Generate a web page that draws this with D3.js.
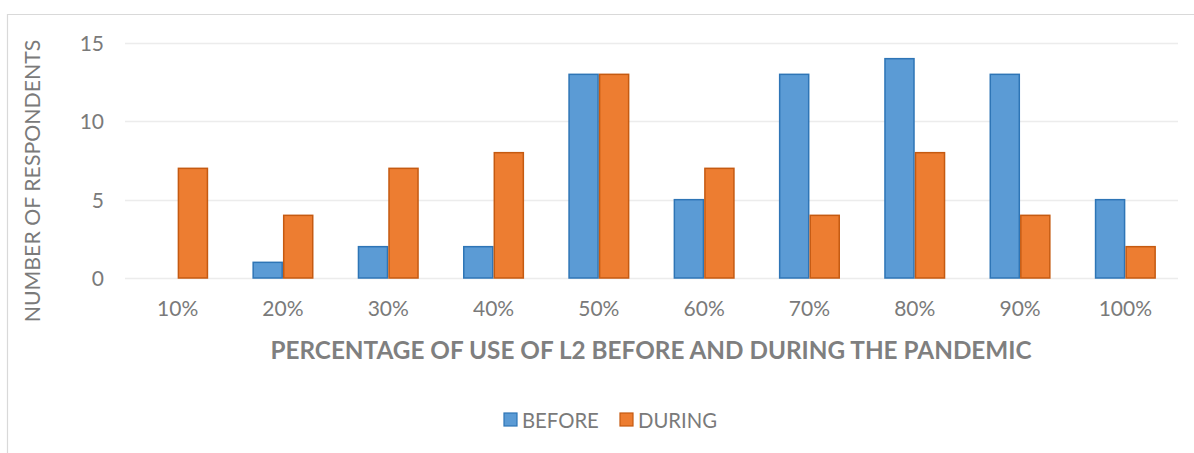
<!DOCTYPE html>
<html>
<head>
<meta charset="utf-8">
<script src="https://cdn.jsdelivr.net/npm/d3@7/dist/d3.min.js"></script>
<style>
  html, body { margin: 0; padding: 0; background: #fff; }
  svg { display: block; font-family: Lato, "Open Sans", sans-serif; }
</style>
</head>
<body>
<svg id="chart" width="1194" height="453"></svg>
<script>
// Share of L2 use, respondents per bucket
const categories = ["10%", "20%", "30%", "40%", "50%", "60%", "70%", "80%", "90%", "100%"];
const beforeValues = [0, 1, 2, 2, 13, 5, 13, 14, 13, 5];
const duringValues = [7, 4, 7, 8, 13, 7, 4, 8, 4, 2];
const yTicks = [0, 5, 10, 15];
const seriesNames = ["BEFORE", "DURING"];

const svg = d3.select("#chart");
const W = 1194, H = 453;
const plot = { left: 125, right: 1178, top: 43, bottom: 278 };
const textGray = "#7a7a7a";

// outer chart frame (only left and top edges fall inside the canvas)
svg.append("path")
  .attr("d", `M7.5,${H} L7.5,14.5 L${W},14.5`)
  .attr("fill", "none").attr("stroke", "#d9d9d9").attr("stroke-width", 1.2);

const x = d3.scaleBand().domain(categories).range([plot.left, plot.right]).paddingInner(0).paddingOuter(0);
const y = d3.scaleLinear().domain([0, 15]).range([plot.bottom, plot.top]);

const groupWidth = x.bandwidth() * 0.58;
const x1 = d3.scaleBand().domain(seriesNames).range([0, groupWidth]).padding(0);

// gridlines
svg.append("g").selectAll("line").data(yTicks).join("line")
  .attr("x1", plot.left).attr("x2", plot.right)
  .attr("y1", d => Math.round(y(d)) + 0.5).attr("y2", d => Math.round(y(d)) + 0.5)
  .attr("stroke", "#ececec").attr("stroke-width", 1.5);

// y axis tick labels
const yAxis = d3.axisLeft(y).tickValues(yTicks).tickSize(0).tickPadding(0);
const gy = svg.append("g").attr("transform", `translate(104,0)`).call(yAxis);
gy.select(".domain").remove();
gy.selectAll("text").attr("fill", textGray).attr("font-size", 21)
  .attr("font-family", "Lato, sans-serif").attr("dy", "0.35em");

// x axis tick labels
const xAxis = d3.axisBottom(x).tickSize(0).tickPadding(0);
const gx = svg.append("g").attr("transform", `translate(0,${plot.bottom + 23})`).call(xAxis);
gx.select(".domain").remove();
gx.selectAll("text").attr("fill", textGray).attr("font-size", 21)
  .attr("font-family", "Lato, sans-serif").attr("dy", "0.71em");

const colors = { BEFORE: { fill: "#5b9bd5", stroke: "#2e75b6" }, DURING: { fill: "#ed7d31", stroke: "#c55a11" } };
const rows = categories.map((c, i) => ({ cat: c, BEFORE: beforeValues[i], DURING: duringValues[i] }));

// bars
const groups = svg.append("g").selectAll("g").data(rows).join("g")
  .attr("transform", d => `translate(${x(d.cat) + (x.bandwidth() - groupWidth) / 2},0)`);
groups.selectAll("rect")
  .data(d => seriesNames.map(s => ({ s, v: d[s] })).filter(e => e.v > 0))
  .join("rect")
  .attr("x", e => x1(e.s) + 0.75)
  .attr("width", x1.bandwidth() - 1.5)
  .attr("y", e => y(e.v))
  .attr("height", e => y(0) - y(e.v))
  .attr("fill", e => colors[e.s].fill)
  .attr("stroke", e => colors[e.s].stroke)
  .attr("stroke-width", 1.5);

// axis titles
svg.append("text")
  .attr("transform", `translate(40,181) rotate(-90)`)
  .attr("text-anchor", "middle").attr("fill", textGray)
  .attr("font-size", 21.3).text("NUMBER OF RESPONDENTS");

svg.append("text")
  .attr("x", 651).attr("y", 359)
  .attr("text-anchor", "middle").attr("fill", "#7f7f7f")
  .attr("font-size", 24.3).attr("font-weight", "bold")
  .text("PERCENTAGE OF USE OF L2 BEFORE AND DURING THE PANDEMIC");

// legend
const legendItems = [
  { s: "BEFORE", x: 504 },
  { s: "DURING", x: 620 }
];
const lg = svg.append("g").selectAll("g").data(legendItems).join("g")
  .attr("transform", d => `translate(${d.x},413)`);
lg.append("rect").attr("width", 13).attr("height", 13)
  .attr("fill", d => colors[d.s].fill).attr("stroke", d => colors[d.s].stroke).attr("stroke-width", 1.2);
lg.append("text").attr("x", 18).attr("y", 14.5)
  .attr("fill", textGray).attr("font-size", 20.3).text(d => d.s);
</script>
</body>
</html>
